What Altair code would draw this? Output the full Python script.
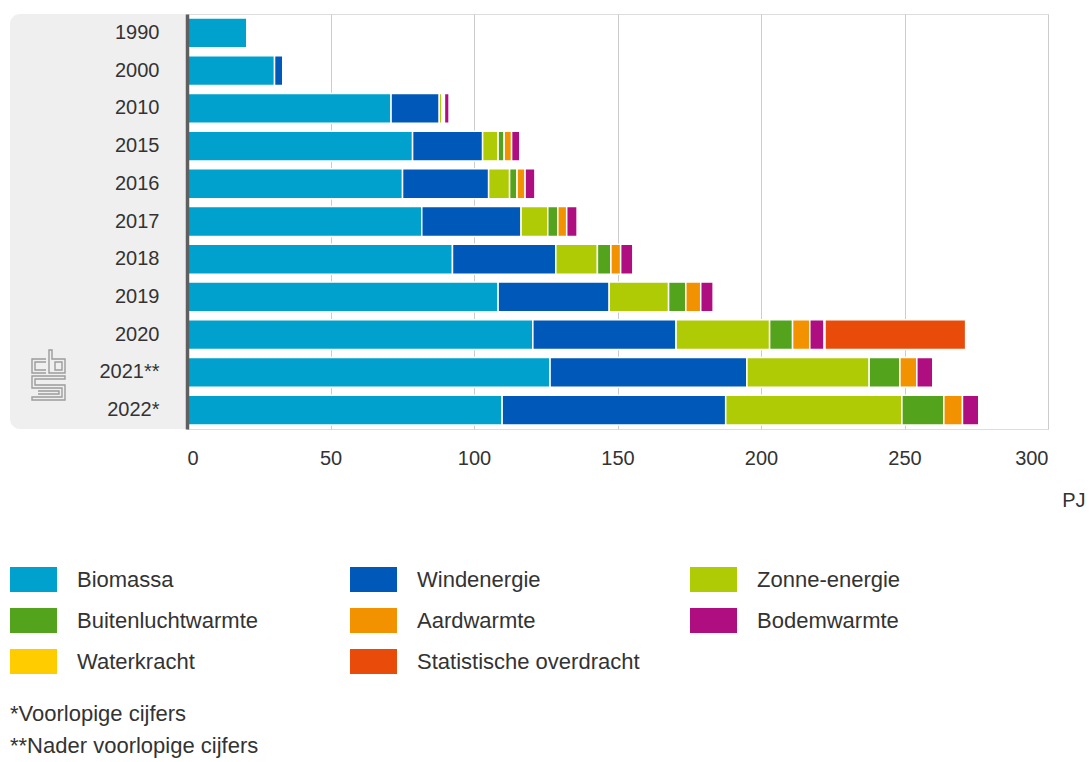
import altair as alt
import pandas as pd

# Hernieuwbare energie naar bron, in PJ
years = ["1990", "2000", "2010", "2015", "2016", "2017", "2018", "2019", "2020", "2021**", "2022*"]

categories = [
    "Biomassa", "Windenergie", "Zonne-energie",
    "Buitenluchtwarmte", "Aardwarmte", "Bodemwarmte",
    "Waterkracht", "Statistische overdracht",
]
colors = ["#00a1cd", "#0058b8", "#afcb05", "#53a31d", "#f39200", "#af0e80", "#ffcc00", "#e94c0a"]

biomassa = [20.9, 30.5, 71.1, 78.6, 75.1, 81.8, 92.5, 108.4, 120.5, 126.5, 109.8]
windenergie = [0.0, 2.9, 16.8, 24.4, 30.0, 34.6, 36.0, 38.7, 49.9, 68.6, 77.9]
zonne_energie = [0.0, 0.0, 1.0, 5.4, 7.3, 9.3, 14.5, 20.7, 32.6, 42.6, 61.4]
buitenluchtwarmte = [0.0, 0.0, 0.4, 2.1, 2.6, 3.5, 4.7, 6.0, 8.0, 10.7, 14.6]
aardwarmte = [0.0, 0.0, 0.4, 2.6, 2.8, 3.1, 3.4, 5.2, 6.0, 5.9, 6.5]
bodemwarmte = [0.0, 0.0, 1.7, 2.9, 3.5, 3.7, 4.3, 4.4, 5.0, 5.6, 5.7]
waterkracht = [0.3, 0.3, 0.3, 0.3, 0.3, 0.3, 0.3, 0.3, 0.3, 0.3, 0.3]
statistische_overdracht = [0.0, 0.0, 0.0, 0.0, 0.0, 0.0, 0.0, 0.0, 49.0, 0.0, 0.0]

x_ticks = [0, 50, 100, 150, 200, 250, 300]
notes = ["*Voorlopige cijfers", "**Nader voorlopige cijfers"]

series = [biomassa, windenergie, zonne_energie, buitenluchtwarmte,
          aardwarmte, bodemwarmte, waterkracht, statistische_overdracht]

rows = []
for k, (cat, vals) in enumerate(zip(categories, series)):
    for yr, v in zip(years, vals):
        if v > 0:
            rows.append({"jaar": yr, "bron": cat, "pj": v, "volgorde": k})
df = pd.DataFrame(rows)

FONT = "Liberation Sans"
TEXT = "#333333"
W, H = 861, 415

# legend swatch: a flat rectangle, twice as wide as tall
swatch = "M-1,-0.53L1,-0.53L1,0.53L-1,0.53Z"


def logo_path(polys, box=50.0, w=33.0, h=50.0):
    """Convert line-art drawn on a w x h grid into a [-1, 1] symbol path."""
    out = []
    for poly in polys:
        pts = [((px - w / 2) / (box / 2), (py - h / 2) / (box / 2)) for px, py in poly["pts"]]
        seg = "M" + "L".join(f"{x:.3f},{y:.3f}" for x, y in pts)
        if poly.get("closed"):
            seg += "Z"
        out.append(seg)
    return " ".join(out)


cbs_logo = logo_path([
    # c
    {"pts": [(14, 9), (0, 9), (0, 23), (14, 23)]},
    {"pts": [(14, 12), (3, 12), (3, 20), (14, 20)]},
    # b
    {"pts": [(17, 0), (20, 0), (20, 9), (33, 9), (33, 23), (17, 23)], "closed": True},
    {"pts": [(23, 12), (30, 12), (30, 20), (23, 20)], "closed": True},
    # s
    {"pts": [(0, 26), (33, 26), (33, 29), (3, 29), (3, 35), (33, 35), (33, 50),
             (0, 50), (0, 47), (30, 47), (30, 38), (0, 38)], "closed": True},
    {"pts": [(6, 41), (27, 41), (27, 44), (6, 44)]},
])

one_row = alt.Data(values=[{}])

panel = alt.Chart(one_row).mark_rect(
    color="#efefef", cornerRadiusTopLeft=10, cornerRadiusBottomLeft=10
).encode(x=alt.value(-177), x2=alt.value(0), y=alt.value(0), y2=alt.value(H))

logo = alt.Chart(one_row).mark_point(
    shape=cbs_logo, size=2500, filled=False, stroke="#9c9c9c", strokeWidth=1.4, opacity=1
).encode(x=alt.value(-138.5), y=alt.value(361))

bars = alt.Chart(df).mark_bar(stroke="white", strokeWidth=1.5).encode(
    x=alt.X(
        "pj:Q", stack="zero",
        scale=alt.Scale(domain=[0, 300], nice=False, zero=True),
        axis=alt.Axis(
            values=x_ticks, title="PJ", grid=True, gridColor="#cccccc", gridWidth=1,
            domain=False, ticks=False, tickSize=0,
            labelFont=FONT, labelFontSize=20, labelColor=TEXT, labelPadding=19,
            titleFont=FONT, titleFontSize=20, titleColor=TEXT, titleFontWeight="normal",
            titleAnchor="end", titleAlign="right", titleBaseline="middle",
            titleX=898, titleY=71,
        ),
    ),
    y=alt.Y(
        "jaar:N", sort=years,
        scale=alt.Scale(paddingInner=0.21, paddingOuter=0.105),
        axis=alt.Axis(
            title=None, ticks=False, tickSize=0, grid=False,
            domain=True, domainColor="#5f5f5f", domainWidth=3.5,
            labelFont=FONT, labelFontSize=20, labelColor=TEXT, labelPadding=28,
            zindex=1,
        ),
    ),
    color=alt.Color(
        "bron:N",
        scale=alt.Scale(domain=categories, range=colors),
        legend=alt.Legend(
            title=None, orient="none", legendX=-177, legendY=542, columns=3,
            direction="horizontal", gridAlign="all", columnPadding=50, rowPadding=5,
            symbolType=swatch, symbolSize=2209, symbolStrokeWidth=0, symbolOpacity=1,
            labelFont=FONT, labelFontSize=22, labelColor=TEXT, labelOffset=20,
            labelLimit=400, padding=0,
        ),
    ),
    order=alt.Order("volgorde:Q"),
)

note_layers = [
    alt.Chart(one_row).mark_text(
        align="left", baseline="middle", font=FONT, fontSize=22, color=TEXT
    ).encode(x=alt.value(-177), y=alt.value(700 + 32 * i), text=alt.value(note))
    for i, note in enumerate(notes)
]

chart = alt.layer(panel, logo, bars, *note_layers).properties(
    width=W, height=H,
    padding={"left": 187, "top": 14, "right": 42, "bottom": 333},
    autosize=alt.AutoSizeParams(type="none"),
).configure_view(stroke=None).configure(background="white")

chart.save("out.html", embed_options={"renderer": "svg", "actions": False})
